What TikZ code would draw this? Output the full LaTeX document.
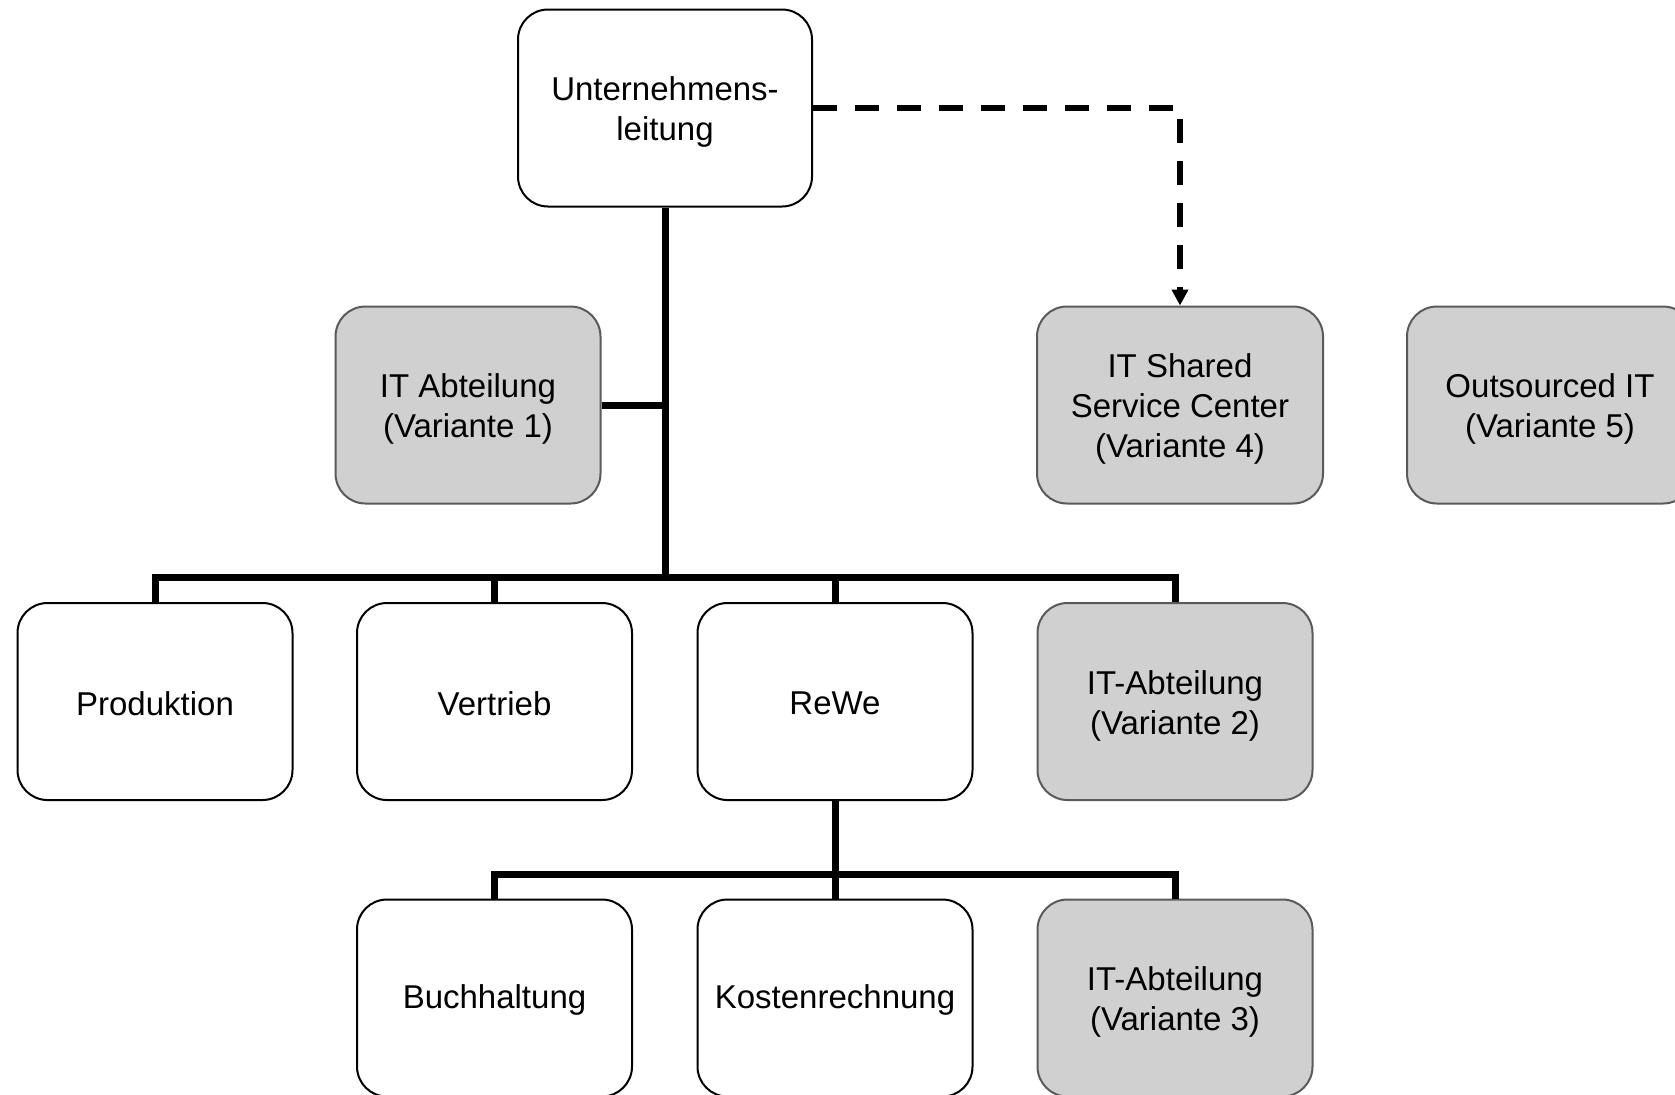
\documentclass[tikz,border=0pt]{standalone}
\usepackage{fontspec}
\setmainfont{Liberation Sans}
\usetikzlibrary{arrows.meta}
\definecolor{boxgray}{RGB}{208,208,208}
\definecolor{edgegray}{RGB}{90,90,90}
\newcommand{\dnl}[2][2pt]{\raisebox{-#1}[\height][\depth]{#2}}
\tikzset{
  unit/.style={draw=black, line width=1pt, fill=white, rounded corners=15pt,
    minimum width=137.5pt, minimum height=98.5pt, align=center,
    font=\fontsize{16.5}{20}\selectfont, inner sep=2pt},
  itunit/.style={unit, draw=edgegray, fill=boxgray},
  tree/.style={line width=3.5pt, line join=miter},
  dashlink/.style={line width=3pt, dash pattern=on 12pt off 9pt,
    -{Triangle[width=8pt,length=8pt]}}
}
\begin{document}
\begin{tikzpicture}[x=0.5pt,y=-0.5pt]
\clip (0,0) rectangle (1675,1094);
\fill[white] (0,0) rectangle (1675,1094);
% nodes
\node[unit, minimum width=147pt] (top) at (665,108) {\dnl{Unternehmens-}\\\dnl{leitung}};
\node[itunit, minimum width=132.5pt] (it1) at (468,405) {\dnl{IT Abteilung}\\\dnl{(Variante 1)}};
\node[itunit, minimum width=143pt] (ssc) at (1180,405) {\dnl{IT Shared}\\\dnl{Service Center}\\\dnl{(Variante 4)}};
\node[itunit, minimum width=143pt] (out) at (1550,405) {\dnl{Outsourced IT}\\\dnl{(Variante 5)}};
\node[unit] (prod) at (155,701.5) {\dnl[1pt]{Produktion}};
\node[unit] (vert) at (494.5,701.5) {\dnl[1pt]{Vertrieb}};
\node[unit] (rewe) at (835,701.5) {\dnl[1pt]{ReWe}};
\node[itunit] (it2) at (1175,701.5) {\dnl{IT-Abteilung}\\\dnl{(Variante 2)}};
\node[unit] (buch) at (494.5,998) {\dnl[1pt]{Buchhaltung}};
\node[unit] (kost) at (835,998) {\dnl[1pt]{Kostenrechnung}};
\node[itunit] (it3) at (1175,998) {\dnl{IT-Abteilung}\\\dnl{(Variante 3)}};
% bus coordinates
\coordinate (b1) at (665,577);
\coordinate (b2) at (835,874);
% connectors
\draw[tree] (top.south) -- (b1);
\draw[tree] (it1.east) -- (it1.east -| top);
\draw[tree] (prod.north) -- (prod.north |- b1) -- (it2.north |- b1) -- (it2.north);
\draw[tree] (vert.north) -- (vert.north |- b1);
\draw[tree] (rewe.north) -- (rewe.north |- b1);
\draw[tree] (rewe.south) -- (b2);
\draw[tree] (buch.north) -- (buch.north |- b2) -- (it3.north |- b2) -- (it3.north);
\draw[tree] (kost.north) -- (kost.north |- b2);
\draw[dashlink] (top.east) -| (ssc.north);
\end{tikzpicture}
\end{document}
